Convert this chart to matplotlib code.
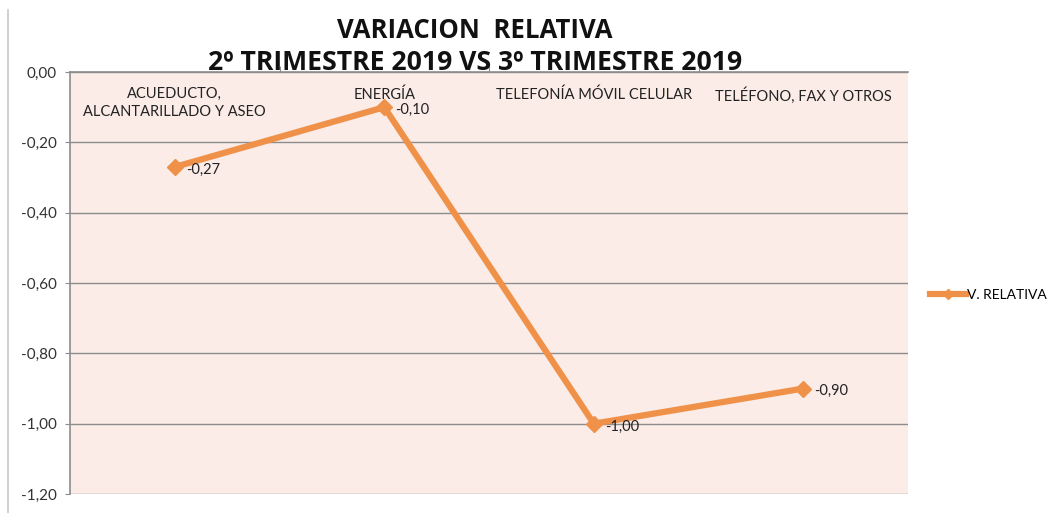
import matplotlib
matplotlib.use("Agg")
import matplotlib.pyplot as plt
from matplotlib.lines import Line2D

categories = ["ACUEDUCTO,\nALCANTARILLADO Y ASEO", "ENERGÍA", "TELEFONÍA MÓVIL CELULAR", "TELÉFONO, FAX Y OTROS"]
values = [-0.27, -0.10, -1.00, -0.90]
value_labels = ["-0,27", "-0,10", "-1,00", "-0,90"]
yticks = [0.0, -0.2, -0.4, -0.6, -0.8, -1.0, -1.2]
ytick_labels = ["0,00", "-0,20", "-0,40", "-0,60", "-0,80", "-1,00", "-1,20"]
series_name = "V. RELATIVA"

plt.rcParams['font.family'] = ['Lato', 'DejaVu Sans']
orange = "#F0914A"

fig = plt.figure(figsize=(10.49, 5.13), dpi=100)
fig.patch.set_facecolor("white")

# faint spreadsheet border on the left
fig.add_artist(Line2D([0.008, 0.008], [0.0, 0.98], color="#c8c8c8", lw=1.2, transform=fig.transFigure))

ax = fig.add_axes([0.0667, 0.037, 0.799, 0.8226])
ax.set_facecolor("#FBECE7")
x = list(range(len(categories)))
ax.set_xlim(-0.5, len(categories) - 0.5)
ax.set_ylim(-1.2, 0.0)

ax.set_yticks(yticks)
ax.set_yticklabels(ytick_labels, fontsize=11, color="#333333")
ax.yaxis.grid(True, color="#8c8c8c", lw=1)
ax.set_axisbelow(True)
ax.tick_params(axis="y", length=3.5, color="#8c8c8c", pad=6)

ax.xaxis.tick_top()
ax.set_xticks([0.5, 1.5, 2.5])
ax.set_xticklabels([])
ax.tick_params(axis="x", length=4, color="#8c8c8c", direction="out")

for s in ["right", "bottom"]:
    ax.spines[s].set_visible(False)
for s in ["left", "top"]:
    ax.spines[s].set_color("#8c8c8c")
    ax.spines[s].set_linewidth(1.2)

ax.plot(x, values, color=orange, lw=4.5, marker="D", markersize=8,
        markerfacecolor=orange, markeredgecolor=orange, solid_joinstyle="miter",
        label=series_name, zorder=3)

for xi, v, lab in zip(x, values, value_labels):
    ax.annotate(lab, (xi, v), xytext=(8, -2), textcoords="offset points",
                fontsize=10.5, color="#222222", va="center", ha="left")

for xi, cat in zip(x, categories):
    ax.text(xi, -0.043, cat, ha="center", va="top",
            fontsize=10.5, color="#222222", linespacing=1.35)

title_font = ["Open Sans", "DejaVu Sans"]
fig.text(0.453, 0.941, "VARIACION  RELATIVA", ha="center", va="center",
         fontsize=18.5, fontweight="bold", color="#111111", family=title_font)
fig.text(0.453, 0.878, "2º TRIMESTRE 2019 VS 3º TRIMESTRE 2019", ha="center", va="center",
         fontsize=19.2, fontweight="bold", color="#111111", family=title_font)

leg = fig.legend(handles=[Line2D([0], [0], color=orange, lw=4.5, marker="D", markersize=5,
                                 markerfacecolor=orange, markeredgecolor=orange)],
                 labels=[series_name], loc="center left", bbox_to_anchor=(0.881, 0.425),
                 frameon=False, fontsize=10, handlelength=2.6, handletextpad=0.1,
                 borderaxespad=0.2, borderpad=0.2)

fig.savefig("out.png", dpi=100, facecolor="white")
